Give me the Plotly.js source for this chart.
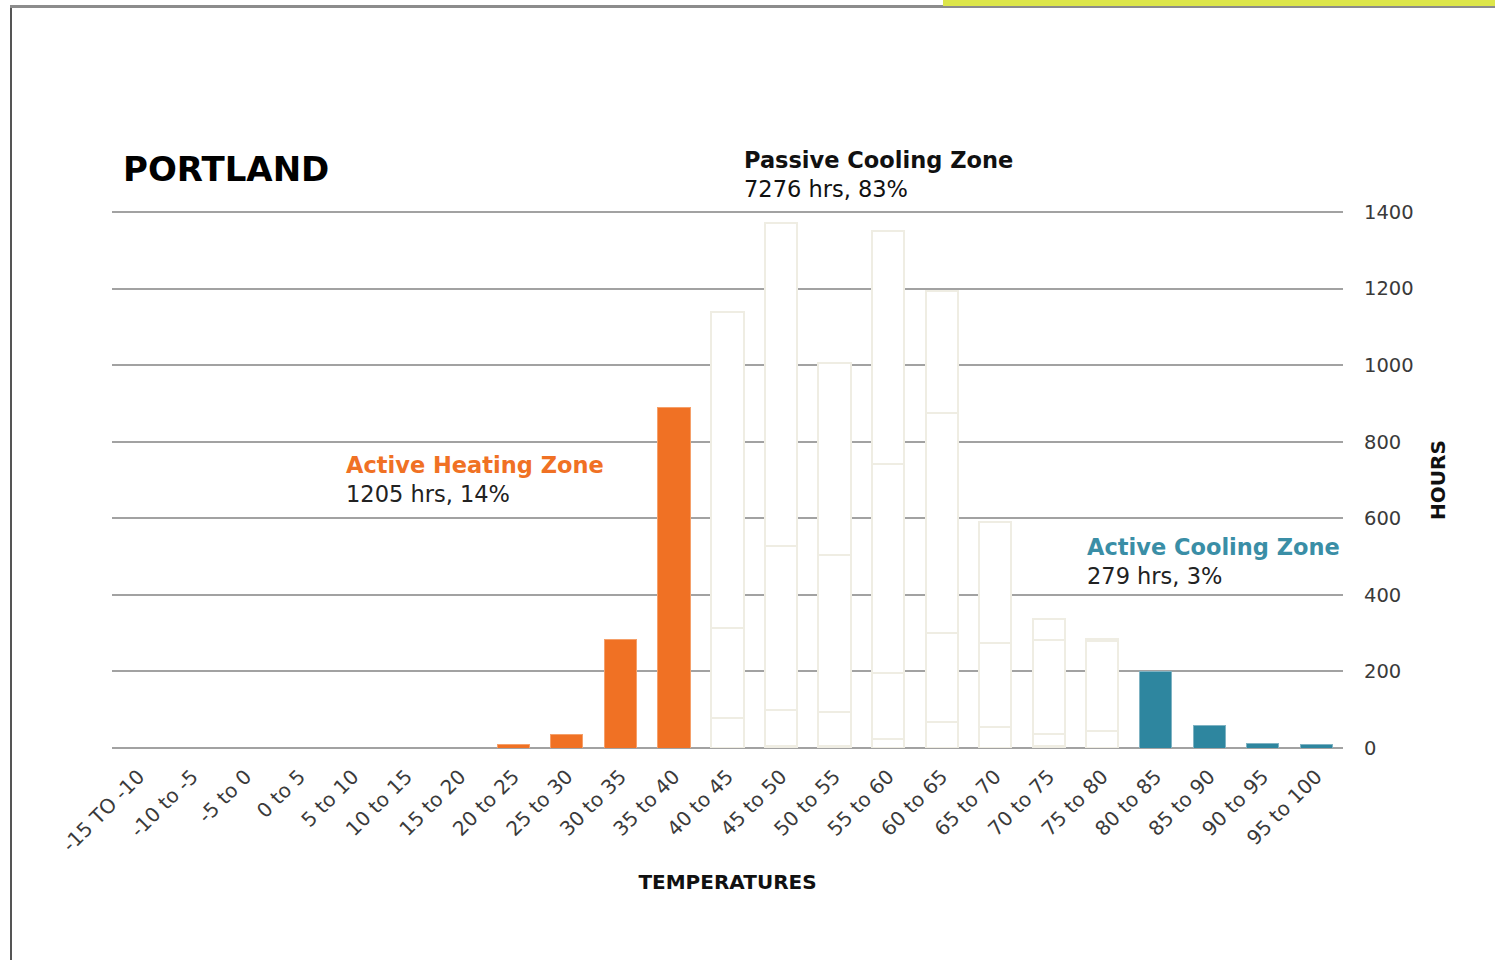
<!DOCTYPE html>
<html>
<head>
<meta charset="utf-8">
<script src="https://cdn.plot.ly/plotly-3.0.1.min.js"></script>
<style>
  html, body { margin: 0; padding: 0; background: #ffffff; }
  #chart { width: 1495px; height: 960px; }
</style>
</head>
<body>
<div id="chart"></div>
<script>
// ---- Data ----
const categories = ['-15 TO -10', '-10 to -5', '-5 to 0', '0 to 5', '5 to 10', '10 to 15', '15 to 20',
  '20 to 25', '25 to 30', '30 to 35', '35 to 40', '40 to 45', '45 to 50', '50 to 55', '55 to 60',
  '60 to 65', '65 to 70', '70 to 75', '75 to 80', '80 to 85', '85 to 90', '90 to 95', '95 to 100'];

const heatingCats = ['20 to 25', '25 to 30', '30 to 35', '35 to 40'];
const heatingHours = [10, 35, 284, 890];

const passiveCats = ['40 to 45', '45 to 50', '50 to 55', '55 to 60', '60 to 65', '65 to 70', '70 to 75', '75 to 80'];
const passiveSeg1 = [79, 6, 6, 23, 68, 56, 6, 45];
const passiveSeg2 = [235, 93, 88, 173, 232, 218, 31, 234];
const passiveSeg3 = [825, 428, 410, 546, 575, 317, 244, 6];
const passiveSeg4 = [null, 844, 501, 608, 318, null, 57, null];

const coolingCats = ['80 to 85', '85 to 90', '90 to 95', '95 to 100'];
const coolingHours = [200, 58, 11, 10];

const yTicks = [0, 200, 400, 600, 800, 1000, 1200, 1400];

const cityTitle = 'PORTLAND';
const zoneHeating = {name: 'Active Heating Zone', detail: '1205 hrs, 14%'};
const zonePassive = {name: 'Passive Cooling Zone', detail: '7276 hrs, 83%'};
const zoneCooling = {name: 'Active Cooling Zone', detail: '279 hrs, 3%'};

// ---- Styles ----
const FONT = 'DejaVu Sans, Verdana, sans-serif';
const ORANGE = '#f07124';
const BLUE = '#2e869f';
const OUTLINE = '#efede3';
const GRID = '#a2a2a2';

function whiteSeg(vals) {
  return {
    type: 'bar', x: passiveCats, y: vals,
    marker: {color: '#ffffff', line: {color: OUTLINE, width: 2}},
    hoverinfo: 'x+y', showlegend: false
  };
}

const traces = [
  {type: 'bar', x: heatingCats, y: heatingHours,
   marker: {color: ORANGE, line: {color: '#f5a06a', width: 1}}, showlegend: false},
  whiteSeg(passiveSeg1), whiteSeg(passiveSeg2), whiteSeg(passiveSeg3), whiteSeg(passiveSeg4),
  {type: 'bar', x: coolingCats, y: coolingHours,
   marker: {color: BLUE, line: {color: '#7fb3c3', width: 1}}, showlegend: false}
];

const L = 112, R = 1343, T = 212, B = 748;
function px(xp) { return (xp - L) / (R - L); }
function py(yp) { return (B - yp) / (B - T); }

// gridlines at the bottom and top of the value range (paper-referenced so they are not clipped)
const edgeLines = [0, 1].map(v => ({
  type: 'line', xref: 'paper', yref: 'paper', x0: 0, x1: 1, y0: v, y1: v,
  line: {color: GRID, width: 2}, layer: 'below'
}));

const layout = {
  width: 1495, height: 960,
  margin: {l: L, r: 1495 - R, t: T, b: 960 - B, pad: 0},
  paper_bgcolor: '#ffffff', plot_bgcolor: '#ffffff',
  barmode: 'stack', bargap: 0.4,
  font: {family: FONT, color: '#333333', size: 20},
  showlegend: false,
  xaxis: {
    type: 'category', categoryorder: 'array', categoryarray: categories,
    range: [-0.5, categories.length - 0.5],
    tickangle: -45, tickfont: {family: FONT, size: 20, color: '#3a3a3a'},
    ticklabelstandoff: 12,
    showgrid: false, zeroline: false, showline: false, ticks: '',
    title: {text: '<b>TEMPERATURES</b>', font: {family: FONT, size: 20, color: '#111111'}, standoff: 19}
  },
  yaxis: {
    side: 'right', range: [yTicks[0], yTicks[yTicks.length - 1]], tickvals: yTicks, ticktext: yTicks.map(String),
    showgrid: true, gridcolor: GRID, gridwidth: 2,
    zeroline: false, showline: false, ticks: '',
    ticklabelstandoff: 20,
    tickfont: {family: FONT, size: 19.5, color: '#3a3a3a'},
    title: {text: '<b>HOURS</b>', font: {family: FONT, size: 20, color: '#111111'}, standoff: 18}
  },
  annotations: [
    {xref: 'paper', yref: 'paper', x: px(121), y: py(169), xanchor: 'left', yanchor: 'middle',
     text: '<b>' + cityTitle + '</b>', showarrow: false,
     font: {family: FONT, size: 34, color: '#000000'}},
    {xref: 'paper', yref: 'paper', x: px(742), y: py(174), xanchor: 'left', yanchor: 'middle', align: 'left',
     text: '<b>' + zonePassive.name + '</b><br>' + zonePassive.detail, showarrow: false,
     font: {family: FONT, size: 22.5, color: '#111111'}},
    {xref: 'paper', yref: 'paper', x: px(344), y: py(479), xanchor: 'left', yanchor: 'middle', align: 'left',
     text: '<b><span style="color:' + ORANGE + '">' + zoneHeating.name + '</span></b><br>' + zoneHeating.detail,
     showarrow: false, font: {family: FONT, size: 22.5, color: '#222222'}},
    {xref: 'paper', yref: 'paper', x: px(1085), y: py(561), xanchor: 'left', yanchor: 'middle', align: 'left',
     text: '<b><span style="color:#3a8ea6">' + zoneCooling.name + '</span></b><br>' + zoneCooling.detail,
     showarrow: false, font: {family: FONT, size: 22.5, color: '#222222'}}
  ],
  shapes: edgeLines.concat([
    {type: 'line', xref: 'paper', yref: 'paper', x0: px(11), x1: px(11), y0: py(7), y1: py(965),
     line: {color: '#555555', width: 2}},
    {type: 'line', xref: 'paper', yref: 'paper', x0: px(10), x1: px(1500), y0: py(6.5), y1: py(6.5),
     line: {color: '#8c8c8c', width: 3}},
    {type: 'rect', xref: 'paper', yref: 'paper', x0: px(943), x1: px(1500), y0: py(6), y1: py(-2),
     fillcolor: '#dde64a', line: {width: 0}}
  ])
};

Plotly.newPlot('chart', traces, layout, {displayModeBar: false, staticPlot: true});
</script>
</body>
</html>
